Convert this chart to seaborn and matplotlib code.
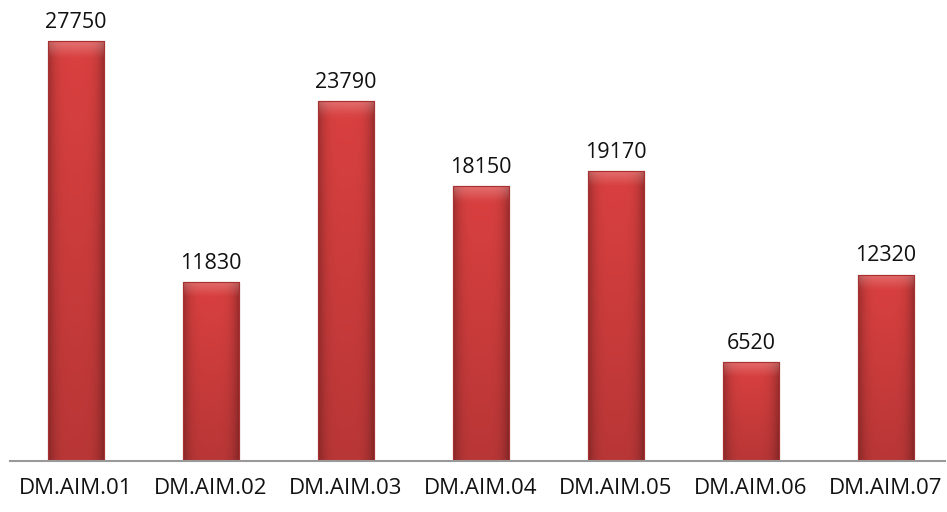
import numpy as np
import pandas as pd
import matplotlib
matplotlib.use("Agg")
import matplotlib.pyplot as plt
import seaborn as sns

categories = ["DM.AIM.01", "DM.AIM.02", "DM.AIM.03", "DM.AIM.04",
              "DM.AIM.05", "DM.AIM.06", "DM.AIM.07"]
values = [27750, 11830, 23790, 18150, 19170, 6520, 12320]

sns.set_theme(style="white")
plt.rcParams["font.family"] = ["Open Sans", "DejaVu Sans"]

df = pd.DataFrame({"cat": categories, "val": values})

fig = plt.figure(figsize=(9.47, 5.12), dpi=100)
# axes placed in pixels: left 10, right 945, baseline 461 from top
ax = fig.add_axes([10 / 947, 51 / 512, 935 / 947, 451 / 512])

sns.barplot(data=df, x="cat", y="val", color="#D23A3A", width=0.41,
            edgecolor="#9E2626", linewidth=0.8, ax=ax, zorder=2)

ax.set_xlim(-(76 - 10) / 135, (945 - 76) / 135)
ax.set_ylim(0, 451 / (420 / 27750))

# shading overlay on each bar: darker sides, lighter middle, darker bottom
nx, ny = 64, 64
xs = np.linspace(-1, 1, nx)
ys = np.linspace(0, 1, ny)
side = 1 - 0.28 * np.abs(xs) ** 4
for p in ax.patches:
    x0, y0 = p.get_x(), p.get_y()
    w, h = p.get_width(), p.get_height()
    top_px = 14 / (420 / 27750)
    rgb = np.array(matplotlib.colors.to_rgb("#DA4040"))
    shade = side[None, :] * (0.85 + 0.15 * ys[:, None])
    img = np.clip(rgb[None, None, :] * shade[:, :, None], 0, 1)
    # lighter bevel near top
    frac_top = np.clip((ys - (1 - top_px / h)) / (top_px / h), 0, 1)
    img = img + (1 - img) * (0.22 * frac_top[:, None, None])
    im = ax.imshow(img, extent=(x0, x0 + w, y0, y0 + h), origin="lower",
                   aspect="auto", zorder=3, interpolation="bilinear")
    im.set_clip_path(p)
    ax.add_patch(plt.Rectangle((x0, y0), w, h, fill=False,
                               edgecolor="#A83030", linewidth=0.8, zorder=4))

for i, v in enumerate(values):
    ax.annotate(str(v), (i, v), xytext=(0, 6), textcoords="offset points",
                ha="center", va="bottom", fontsize=15.5, color="#111111")

ax.set_xlabel("")
ax.set_ylabel("")
ax.set_yticks([])
for s in ["top", "right", "left"]:
    ax.spines[s].set_visible(False)
ax.spines["bottom"].set_color("#999999")
ax.spines["bottom"].set_linewidth(1.5)
ax.spines["bottom"].set_zorder(5)
ax.tick_params(axis="x", length=0, pad=12.5, labelsize=16, colors="#111111")

fig.savefig("out.png", dpi=100)
